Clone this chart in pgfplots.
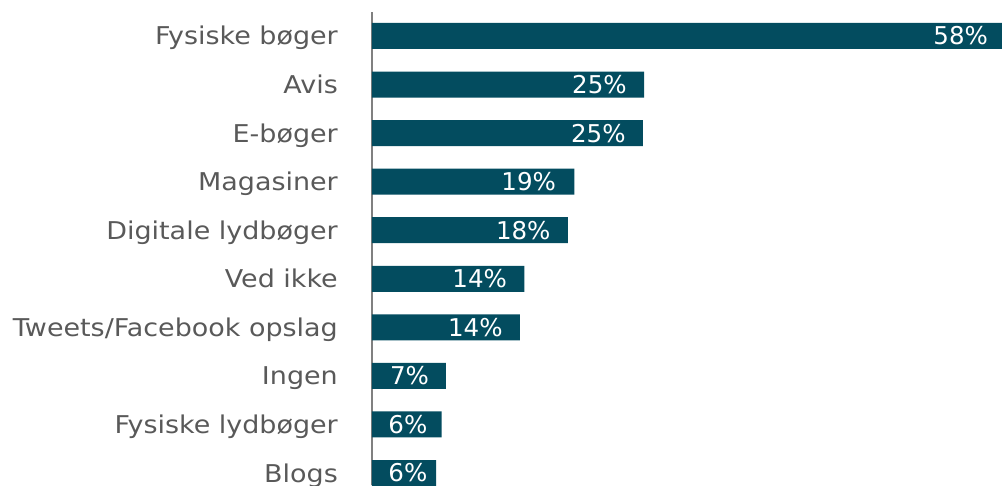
\documentclass[border=0pt]{standalone}
\usepackage{fontspec}
\setmainfont{DejaVu Sans}
\newfontfamily\labfont{DejaVu Sans}[FakeStretch=1.1]
\usepackage{pgfplots}
\pgfplotsset{compat=1.18}
\definecolor{barteal}{HTML}{034C5F}
\definecolor{labelgray}{HTML}{595959}
\definecolor{axisgray}{HTML}{808080}

\pgfplotstableread{
x    y
58   9
25   8
24.9 7
18.6 6
18.0 5
14.0 4
13.6 3
6.8  2
6.4  1
5.9  0
}\bardata

\pgfplotstableread{
x    y  lab
54.1 9  58\%
20.9 8  25\%
20.8 7  25\%
14.4 6  19\%
13.9 5  18\%
9.9  4  14\%
9.5  3  14\%
3.45 2  7\%
3.3  1  6\%
3.3  0  6\%
}\labdata

\begin{document}
\begin{tikzpicture}
\begin{axis}[
  at={(0,0)}, anchor=south west,
  scale only axis,
  width=630pt, height=473pt,
  xmin=0, xmax=57.9,
  ymin=-0.247, ymax=9.494,
  hide x axis,
  axis y line*=left,
  y axis line style={draw=axisgray, line width=1.5pt, -},
  ytick={0,...,9},
  yticklabels={Blogs,Fysiske lydbøger,Ingen,Tweets/Facebook opslag,Ved ikke,Digitale lydbøger,Magasiner,E-bøger,Avis,Fysiske bøger},
  major tick length=0pt,
  ytick style={draw=none},
  yticklabel style={font=\labfont\fontsize{24.5}{29}\selectfont, text=labelgray, anchor=base east, inner sep=0pt, xshift=-34pt, yshift=-9pt},
]
\addplot[xbar, bar shift=0pt, bar width=26pt, fill=barteal, draw=none] table[x=x, y=y] {\bardata};
\addplot[only marks, mark=none, point meta=explicit symbolic,
  nodes near coords,
  nodes near coords style={font=\fontsize{24.5}{29}\selectfont, text=white, anchor=center, inner sep=0pt}]
  table[x=x, y=y, meta=lab] {\labdata};
\end{axis}
\pgfresetboundingbox
\useasboundingbox (-372pt,0pt) rectangle (630pt,485pt);
\end{tikzpicture}
\end{document}
